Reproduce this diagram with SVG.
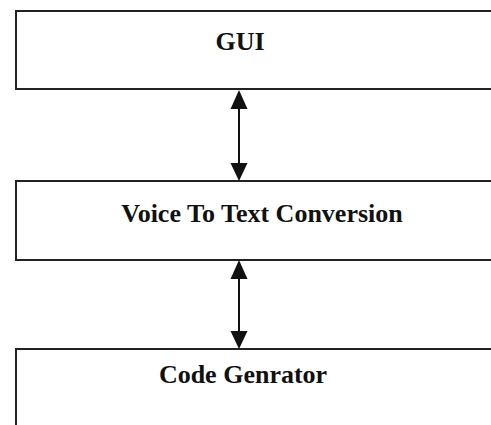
<svg xmlns="http://www.w3.org/2000/svg" width="491" height="425" viewBox="0 0 491 425">
<style>
.box{fill:#fff;stroke:#222;stroke-width:2}
.lbl{font-family:"Liberation Serif","Times New Roman",serif;font-weight:bold;font-size:26px;fill:#111;text-anchor:middle}
.conn{stroke:#111;stroke-width:2;fill:none}
</style>
<defs>
<marker id="ah" viewBox="0 0 10 10" refX="10" refY="5" markerWidth="9" markerHeight="9" markerUnits="userSpaceOnUse" orient="auto-start-reverse">
<path d="M0,0 L10,5 L0,10 Z" fill="#111"/>
</marker>
</defs>
<rect width="491" height="425" fill="#fff"/>
<g id="gui">
<rect class="box" x="16" y="11" width="490" height="78"/>
<text class="lbl" x="240" y="50">GUI</text>
</g>
<g id="voice">
<rect class="box" x="16" y="181" width="490" height="79"/>
<text class="lbl" x="262" y="222">Voice To Text Conversion</text>
</g>
<g id="code">
<rect class="box" x="16" y="349" width="490" height="100"/>
<text class="lbl" x="243" y="383">Code Genrator</text>
</g>
<g id="connectors">
<line class="conn" x1="239" y1="100" x2="239" y2="172"/>
<path d="M239,90 L230.5,109 L247.5,109 Z" fill="#111"/>
<path d="M239,181 L230.5,163 L247.5,163 Z" fill="#111"/>
<line class="conn" x1="239" y1="270" x2="239" y2="340"/>
<path d="M239,260 L230.5,279 L247.5,279 Z" fill="#111"/>
<path d="M239,349 L230.5,331 L247.5,331 Z" fill="#111"/>
</g>
</svg>
